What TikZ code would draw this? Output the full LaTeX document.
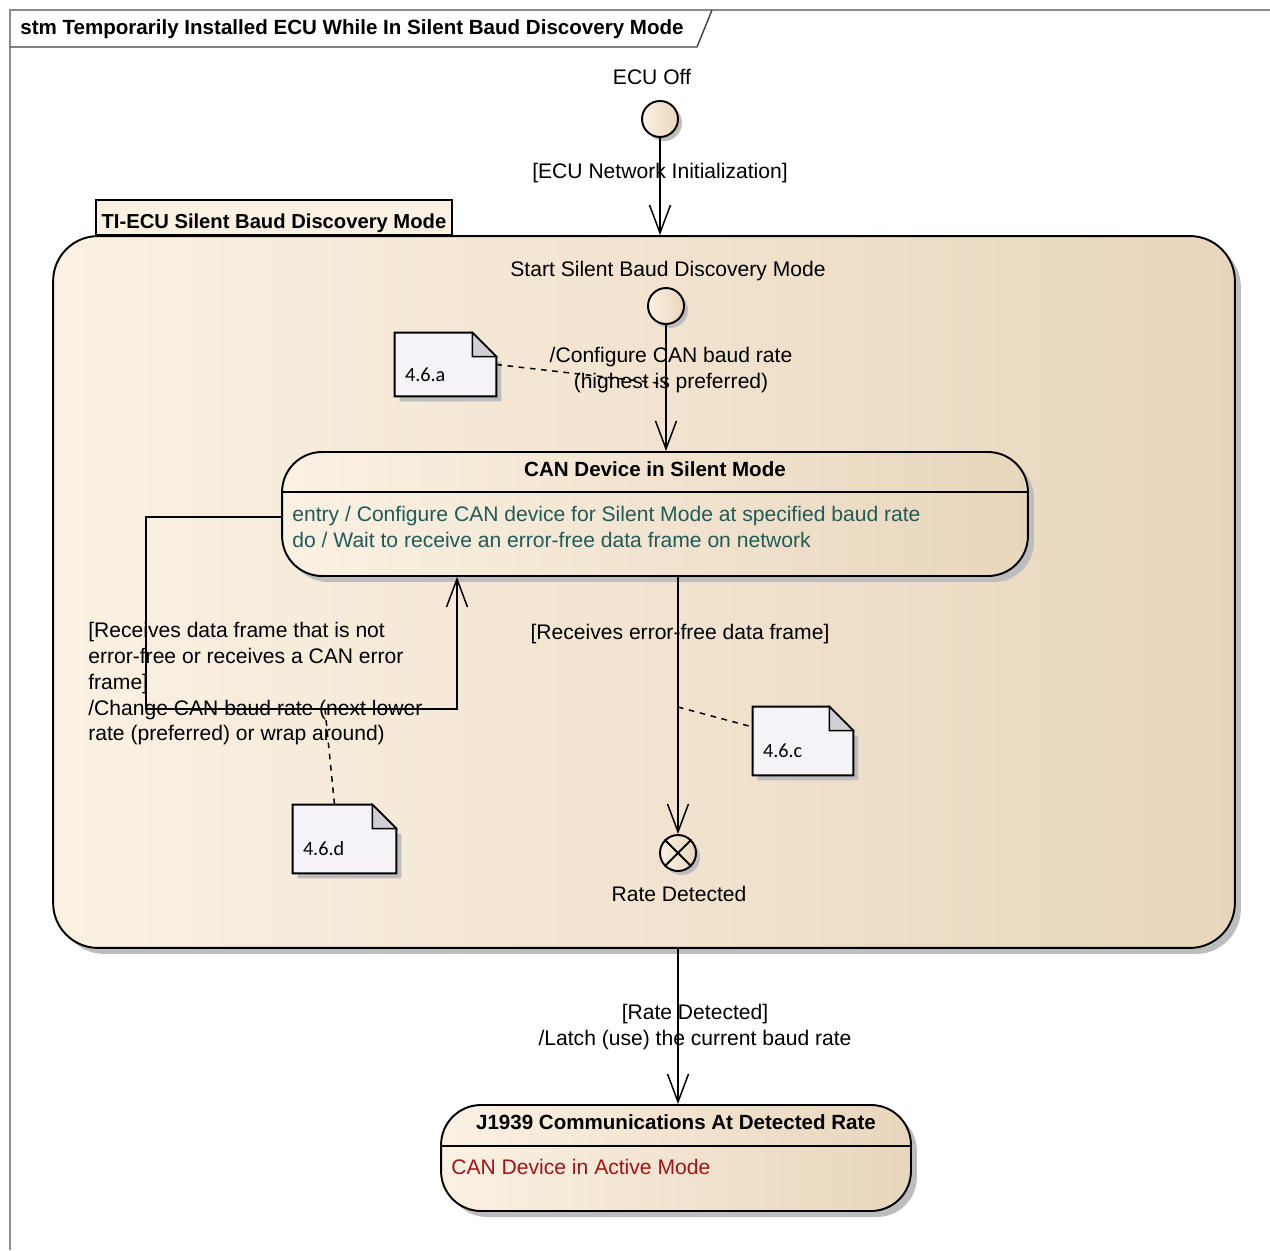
\documentclass[tikz,border=0pt]{standalone}
\usepackage{fontspec}
\setmainfont{Liberation Sans}
\newfontfamily\notefont{Carlito}
\usetikzlibrary{arrows.meta,calc,shadows}

\definecolor{stateL}{HTML}{FBF1E3}
\definecolor{stateR}{HTML}{E8D6BC}
\definecolor{noteFill}{HTML}{F5F3F7}
\definecolor{noteFold}{HTML}{D1CFD4}
\definecolor{shadowGray}{HTML}{BDBDBD}
\definecolor{entryTeal}{HTML}{1F5C58}
\definecolor{activeRed}{HTML}{A01515}
\definecolor{frameGray}{HTML}{8A8A8A}

\newcommand{\lblfont}{\fontsize{12}{14.7}\selectfont}
\newcommand{\hdrfont}{\fontsize{11.7}{14.7}\selectfont\bfseries}

\begin{document}
\begin{tikzpicture}[x=0.02cm,y=-0.02cm,
    lbl/.style={font=\lblfont,inner sep=0pt},
    hdr/.style={font=\hdrfont,inner sep=0pt},
    trans/.style={line width=0.85pt,-{Straight Barb[length=0.56cm,width=0.42cm,line width=0.85pt]}},
    notelink/.style={line width=0.85pt,dash pattern=on 3.2pt off 3.2pt},
    shade box/.style={draw,line width=1.1pt,left color=stateL,middle color=stateL!85!stateR,right color=stateR},
    statebox/.style={shade box,rounded corners=0.8cm,inner sep=0pt,
      drop shadow={shadow xshift=0.12cm,shadow yshift=-0.12cm,fill=shadowGray,opacity=1}},
    pseudost/.style={shade box,circle,minimum size=0.72cm,inner sep=0pt,
      drop shadow={shadow xshift=0.08cm,shadow yshift=-0.08cm,fill=shadowGray,opacity=1}},
  ]
  \useasboundingbox (0,0) rectangle (1270,1250);

  % diagram frame
  \draw[frameGray,line width=1.2pt] (10,1250) -- (10,10) -- (1270,10);
  \draw[black!75,line width=0.8pt] (10,47) -- (697,47) -- (712,10);
  \node[hdr,anchor=west] (title) at (20,29) {stm Temporarily Installed ECU While In Silent Baud Discovery Mode};

  % initial state
  \node[lbl] (ecuofflbl) at (652,77) {ECU Off};
  \node[pseudost] (ecuoff) at (660,119) {};

  % composite state
  \node[statebox,rounded corners=0.9cm,minimum width=23.64cm,minimum height=14.24cm] (tiecu) at (644,592) {};
  \node[draw,line width=1.1pt,fill=stateL,anchor=south west,minimum width=7.12cm,minimum height=0.7cm,
    font=\fontsize{11.5}{14.7}\selectfont\bfseries,inner xsep=0.11cm,inner ysep=0pt,
    text height=0.56cm,text depth=0.14cm] (tab) at (95,236)
    {TI-ECU Silent Baud Discovery Mode};

  \node[lbl] (startlbl) at (668,271) {Start Silent Baud Discovery Mode};
  \node[pseudost] (start) at (666,306) {};

  % silent mode state
  \node[statebox,minimum width=14.92cm,minimum height=2.48cm] (silent) at (655,514) {};
  \draw[line width=1.1pt] ($(silent.north west)+(0,41)$) -- ($(silent.north east)+(0,41)$);
  \node[hdr] (silenthdr) at ($(silent.north)+(0,18)$) {CAN Device in Silent Mode};
  \node[lbl,anchor=north west,align=left,text=entryTeal] (silentbody) at (292,506)
    {entry / Configure CAN device for Silent Mode at specified baud rate\\
     do / Wait to receive an error-free data frame on network};

  % exit point
  \node[pseudost] (rated) at (678,853) {};
  \draw[line width=1.1pt] (rated.north west) -- (rated.south east) (rated.north east) -- (rated.south west);
  \node[lbl] (ratedlbl) at (679,894) {Rate Detected};

  % target state
  \node[statebox,minimum width=9.4cm,minimum height=2.12cm] (j1939) at (676,1158) {};
  \draw[line width=1.1pt] ($(j1939.north west)+(0,42)$) -- ($(j1939.north east)+(0,42)$);
  \node[hdr] (j1939hdr) at ($(j1939.north)+(0,18)$) {J1939 Communications At Detected Rate};
  \node[lbl,anchor=west,text=activeRed] (j1939body) at (451,1167) {CAN Device in Active Mode};

  % transitions
  \draw[trans] (ecuoff) -- (ecuoff |- tiecu.north);
  \node[lbl] (initlbl) at (660,173) {[ECU Network Initialization]};

  \draw[trans] (start) -- (start |- silent.north);
  \node[lbl,align=center] (cfglbl) at (671,370) {/Configure CAN baud rate\\(highest is preferred)};
  \coordinate (cfgpt) at ($(start)+(0,78)$);

  \coordinate (loopbr) at (457,709);
  \draw[trans] ($(silent.west)+(0,3)$) -| ($(loopbr)+(-311,0)$) -- (loopbr) -- (loopbr |- silent.south);
  \node[lbl,anchor=north west,align=left] (looplbl) at (88,622)
    {[Receives data frame that is not\\
     error-free or receives a CAN error\\
     frame]\\
     /Change CAN baud rate (next lower\\
     rate (preferred) or wrap around)};
  \coordinate (looppt) at ($(loopbr)+(-132,0)$);

  \draw[trans] (rated |- silent.south) -- (rated);
  \node[lbl] (freelbl) at (680,634) {[Receives error-free data frame]};
  \coordinate (freept) at (rated |- 0,707);

  \draw[trans] (rated |- tiecu.south) -- (rated |- j1939.north);
  \node[lbl,align=center] (latchlbl) at (695,1027) {[Rate Detected]\\/Latch (use) the current baud rate};

  % notes
  \foreach \nm/\cx/\cy/\w/\h/\txt in {noteA/445.5/364.5/101/63/4.6.a,
      noteC/803/741/100/68/4.6.c, noteD/344.5/839/103/68/4.6.d}
  {
    \node[minimum width=\w*0.02cm,minimum height=\h*0.02cm,inner sep=0pt] (\nm) at (\cx,\cy) {};
    \fill[shadowGray] ($(\nm.north east)+(0,29)$) -- ($(\nm.north east)+(5,29)$)
      -- ($(\nm.south east)+(5,5)$) -- ($(\nm.south west)+(5,5)$) -- ($(\nm.south west)+(5,0)$) -- cycle;
    \filldraw[fill=noteFill,line width=1.1pt] (\nm.south west) -- (\nm.north west)
      -- ($(\nm.north east)+(-24,0)$) -- ($(\nm.north east)+(0,24)$) -- (\nm.south east) -- cycle;
    \filldraw[fill=noteFold,line width=0.8pt] ($(\nm.north east)+(-24,0)$) -- ($(\nm.north east)+(-24,24)$)
      -- ($(\nm.north east)+(0,24)$) -- cycle;
    \node[font=\notefont\fontsize{11.5}{13}\selectfont,inner sep=0pt,anchor=west] (\nm txt)
      at ($(\nm.west)+(10,10)$) {\txt};
  }
  \draw[notelink] (noteA.east) -- (cfgpt);
  \draw[notelink] (freept) -- ($(noteC.west)+(0,-14)$);
  \draw[notelink] (looppt) -- ($(noteD.north)+(-10,0)$);
\end{tikzpicture}
\end{document}
